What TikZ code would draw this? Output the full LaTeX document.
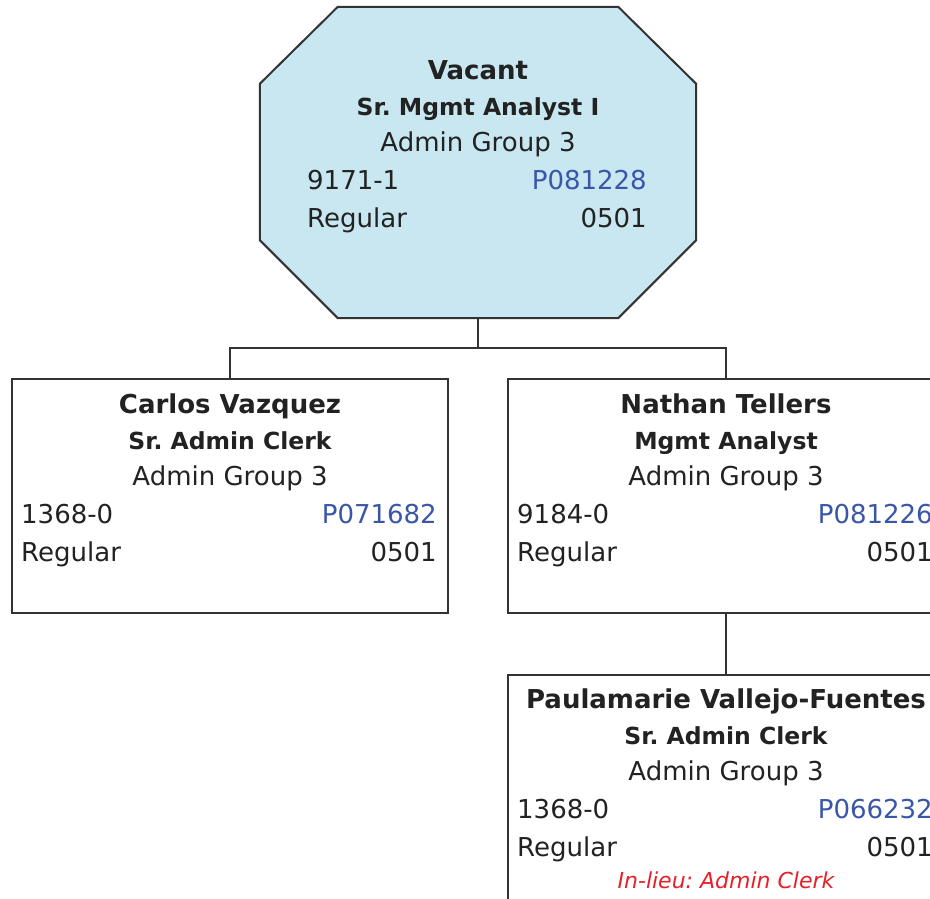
\documentclass[tikz,border=0pt]{standalone}
\usepackage{fontspec}
\setmainfont{DejaVu Sans}
\frenchspacing
\definecolor{ink}{HTML}{222222}
\definecolor{frame}{HTML}{333333}
\definecolor{vacfill}{HTML}{C8E7F1}
\definecolor{posblue}{HTML}{3A56A8}
\definecolor{noteRed}{HTML}{E8202A}
\tikzset{
  box/.style={draw=frame, line width=2pt, fill=white, rectangle, inner sep=0pt,
    minimum width=436pt, minimum height=234pt},
  link/.style={draw=frame, line width=2pt},
  bodyt/.style={inner sep=0pt, text=ink, font=\fontsize{26}{30}\selectfont},
  namet/.style={bodyt, anchor=base, font=\bfseries\fontsize{26}{30}\selectfont},
  titlet/.style={bodyt, anchor=base, font=\bfseries\fontsize{23.5}{28}\selectfont},
  notet/.style={bodyt, anchor=base, text=noteRed, font=\itshape\fontsize{22}{26}\selectfont},
}
% text block of one position: prefix, centre x, name baseline, name, title,
% class code, position number, left offset, right offset
\newcommand\cardtext[9]{%
  \node[namet] (#1-n) at (#2,#3) {#4};
  \node[titlet] (#1-t) at (#2,#3+36) {#5};
  \node[bodyt, anchor=base] (#1-g) at (#2,#3+72) {Admin Group 3};
  \node[bodyt, anchor=base west] (#1-c) at (#2-#8,#3+110) {#6};
  \node[bodyt, anchor=base east, text=posblue] (#1-p) at (#2+#9,#3+110) {#7};
  \node[bodyt, anchor=base west] (#1-r) at (#2-#8,#3+148) {Regular};
  \node[bodyt, anchor=base east] (#1-s) at (#2+#9,#3+148) {0501};
}
\begin{document}
\begin{tikzpicture}[x=1pt, y=-1pt]
  \useasboundingbox (0,0) rectangle (930,898);
  \clip (0,0) rectangle (930,898);

  % head position: chamfered octagon
  \node[rectangle, inner sep=0pt, minimum width=436pt, minimum height=311pt] (vac) at (478,162.5) {};
  \draw[fill=vacfill, draw=frame, line width=2pt, line join=miter]
    ([xshift=78pt]vac.north west) -- ([xshift=-78pt]vac.north east)
    -- ([yshift=-77pt]vac.north east) -- ([yshift=78pt]vac.south east)
    -- ([xshift=-78pt]vac.south east) -- ([xshift=78pt]vac.south west)
    -- ([yshift=78pt]vac.south west) -- ([yshift=-77pt]vac.north west) -- cycle;

  % reports
  \node[box] (carlos) at (230,496) {};
  \node[box] (nathan) at (726,496) {};
  \node[box] (paula) at (726,792) {};

  % reporting lines
  \coordinate (bus) at (478,348);
  \draw[link] (vac.south) -- (bus);
  \draw[link] (bus) -| (carlos.north);
  \draw[link] (bus) -| (nathan.north);
  \draw[link] (nathan.south) -- (paula.north);

  % texts
  \cardtext{vt}{478}{79}{Vacant}{Sr. Mgmt Analyst I}{9171-1}{P081228}{171}{169}
  \cardtext{ct}{230}{413}{Carlos Vazquez}{Sr. Admin Clerk}{1368-0}{P071682}{209}{207}
  \cardtext{nt}{726}{413}{Nathan Tellers}{Mgmt Analyst}{9184-0}{P081226}{209}{207}
  \cardtext{pt}{726}{708}{Paulamarie Vallejo-Fuentes}{Sr. Admin Clerk}{1368-0}{P066232}{209}{207}
  \node[notet] (pt-note) at (726,888) {In-lieu: Admin Clerk};
\end{tikzpicture}
\end{document}
